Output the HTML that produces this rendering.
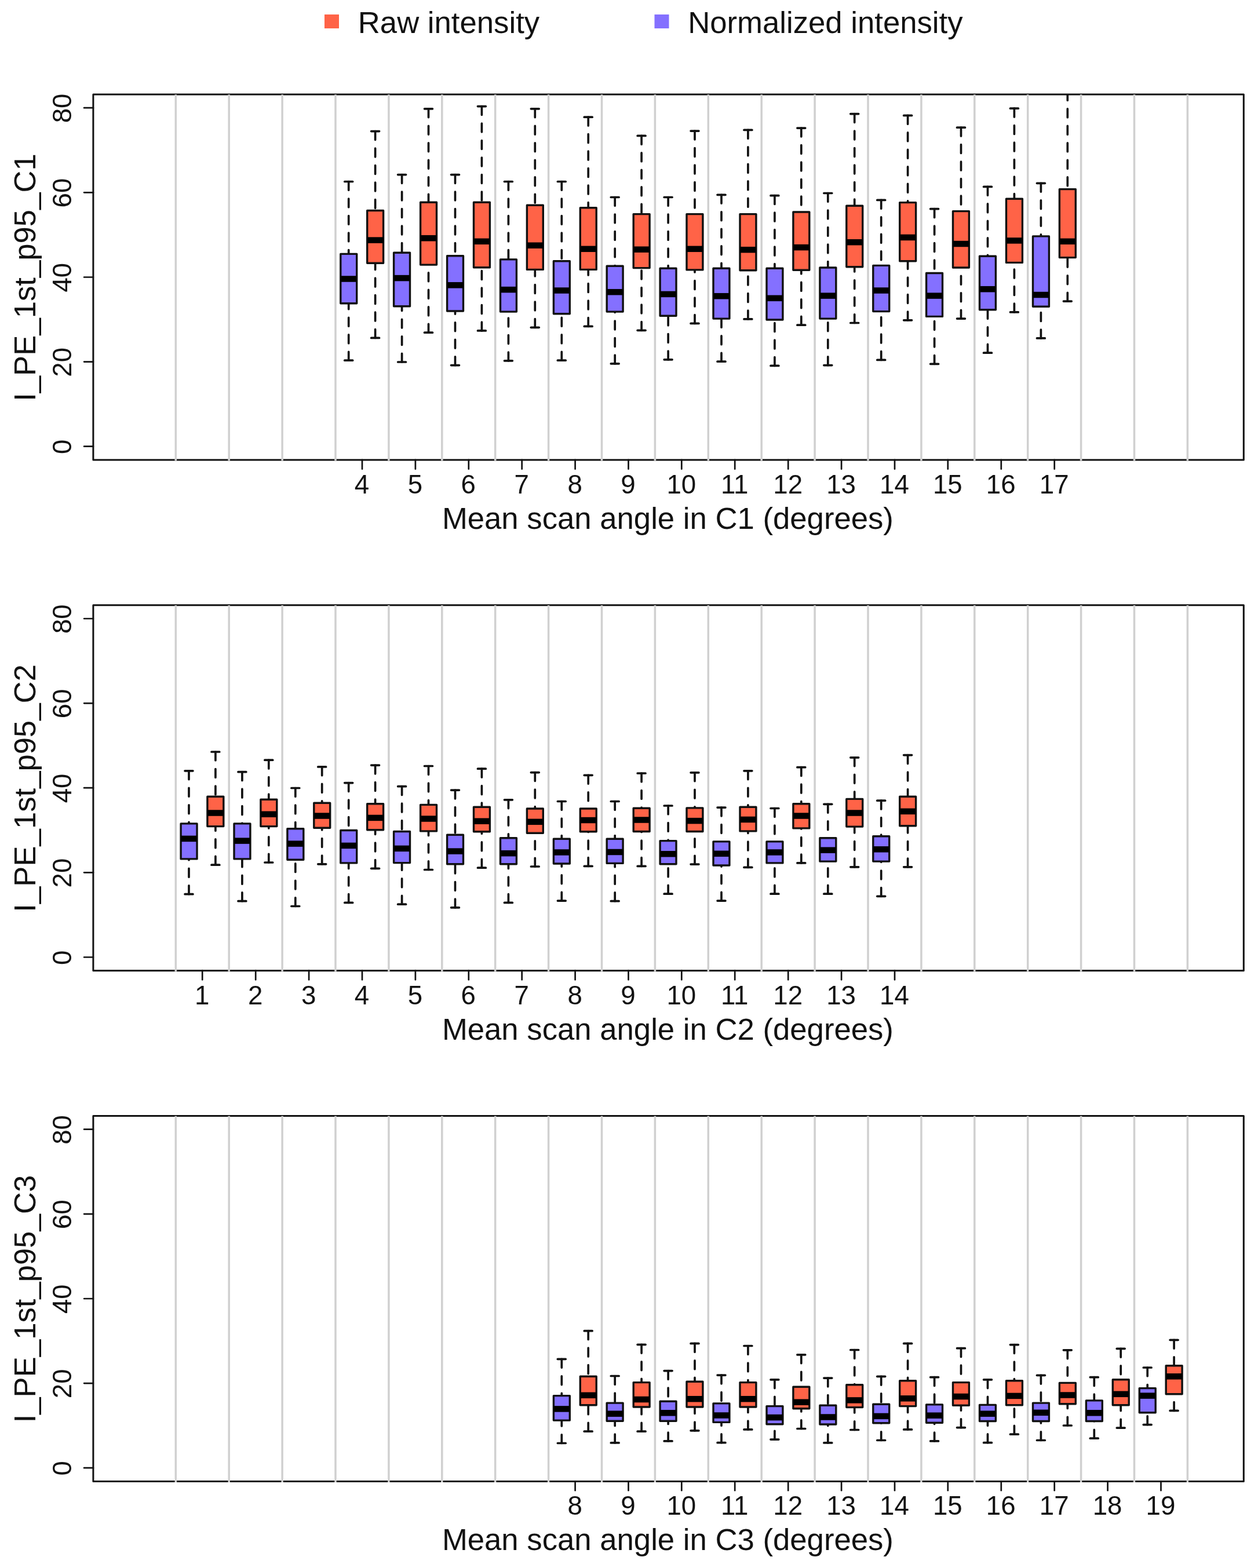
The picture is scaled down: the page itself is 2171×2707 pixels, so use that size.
<!DOCTYPE html>
<html lang="en"><head><meta charset="utf-8"><title>Raw vs normalized intensity by mean scan angle</title>
<style>
html,body{margin:0;padding:0;background:#fff;}
body{width:2171px;height:2707px;overflow:hidden;}
svg{display:block;}
text{font-family:"Liberation Sans",sans-serif;fill:#111111;}
.ax{font-size:45.7px;}
.lab{font-size:52.7px;}
.ln{stroke:#111111;stroke-width:3.0;fill:none;stroke-linecap:round;stroke-linejoin:round;}
.tk{stroke:#111111;stroke-width:2.7;fill:none;stroke-linecap:round;}
.g{stroke:#D0D0D0;stroke-width:3.5;fill:none;}
.w{stroke:#111111;stroke-width:3.7;fill:none;stroke-dasharray:14.75 14.75;stroke-linecap:round;}
.s{stroke:#111111;stroke-width:3.7;fill:none;stroke-linecap:round;}
.m{stroke:#000;stroke-width:10.5;fill:none;stroke-linecap:butt;}
.br{fill:#FF6347;stroke:#111111;stroke-width:3.4;stroke-linejoin:round;}
.bb{fill:#8470FF;stroke:#111111;stroke-width:3.4;stroke-linejoin:round;}
</style></head><body>
<svg width="2171" height="2707" viewBox="0 0 2171 2707">
<rect x="0" y="0" width="2171" height="2707" fill="#fff"/>
<g id="legend">
<rect x="560" y="25" width="25" height="24" fill="#FF6347"/>
<text class="lab" x="617.8" y="56.8">Raw intensity</text>
<rect x="1129.5" y="25" width="25" height="24" fill="#8470FF"/>
<text class="lab" x="1187.2" y="56.8">Normalized intensity</text>
</g>
<g id="panel1">
<clipPath id="clip0"><rect x="160.9" y="162.9" width="1985.4" height="631.0"/></clipPath>
<g clip-path="url(#clip0)">
<line class="s" x1="594.8" y1="313.5" x2="608.6" y2="313.5"/>
<line class="w" x1="601.7" y1="313.5" x2="601.7" y2="438.4"/>
<line class="w" x1="601.7" y1="622.2" x2="601.7" y2="523.7"/>
<line class="s" x1="594.8" y1="622.2" x2="608.6" y2="622.2"/>
<rect class="bb" x="587.8" y="438.4" width="27.9" height="85.3"/>
<line class="m" x1="587.8" y1="481.5" x2="615.7" y2="481.5"/>
<line class="s" x1="640.7" y1="226.6" x2="654.5" y2="226.6"/>
<line class="w" x1="647.6" y1="226.6" x2="647.6" y2="363.5"/>
<line class="w" x1="647.6" y1="583.4" x2="647.6" y2="454.3"/>
<line class="s" x1="640.7" y1="583.4" x2="654.5" y2="583.4"/>
<rect class="br" x="633.7" y="363.5" width="27.9" height="90.8"/>
<line class="m" x1="633.7" y1="414.6" x2="661.6" y2="414.6"/>
<line class="s" x1="686.7" y1="301.6" x2="700.5" y2="301.6"/>
<line class="w" x1="693.6" y1="301.6" x2="693.6" y2="436.2"/>
<line class="w" x1="693.6" y1="625.0" x2="693.6" y2="528.7"/>
<line class="s" x1="686.7" y1="625.0" x2="700.5" y2="625.0"/>
<rect class="bb" x="679.6" y="436.2" width="27.9" height="92.5"/>
<line class="m" x1="679.6" y1="480.1" x2="707.6" y2="480.1"/>
<line class="s" x1="732.6" y1="187.8" x2="746.4" y2="187.8"/>
<line class="w" x1="739.5" y1="187.8" x2="739.5" y2="349.3"/>
<line class="w" x1="739.5" y1="574.2" x2="739.5" y2="457.1"/>
<line class="s" x1="732.6" y1="574.2" x2="746.4" y2="574.2"/>
<rect class="br" x="725.6" y="349.3" width="27.9" height="107.8"/>
<line class="m" x1="725.6" y1="411.2" x2="753.5" y2="411.2"/>
<line class="s" x1="778.6" y1="301.6" x2="792.4" y2="301.6"/>
<line class="w" x1="785.5" y1="301.6" x2="785.5" y2="441.8"/>
<line class="w" x1="785.5" y1="630.6" x2="785.5" y2="537.0"/>
<line class="s" x1="778.6" y1="630.6" x2="792.4" y2="630.6"/>
<rect class="bb" x="771.6" y="441.8" width="27.9" height="95.2"/>
<line class="m" x1="771.6" y1="492.3" x2="799.5" y2="492.3"/>
<line class="s" x1="824.5" y1="183.6" x2="838.3" y2="183.6"/>
<line class="w" x1="831.4" y1="183.6" x2="831.4" y2="349.3"/>
<line class="w" x1="831.4" y1="570.9" x2="831.4" y2="461.8"/>
<line class="s" x1="824.5" y1="570.9" x2="838.3" y2="570.9"/>
<rect class="br" x="817.5" y="349.3" width="27.9" height="112.5"/>
<line class="m" x1="817.5" y1="416.8" x2="845.4" y2="416.8"/>
<line class="s" x1="870.5" y1="313.5" x2="884.3" y2="313.5"/>
<line class="w" x1="877.4" y1="313.5" x2="877.4" y2="447.9"/>
<line class="w" x1="877.4" y1="622.8" x2="877.4" y2="538.1"/>
<line class="s" x1="870.5" y1="622.8" x2="884.3" y2="622.8"/>
<rect class="bb" x="863.5" y="447.9" width="27.9" height="90.2"/>
<line class="m" x1="863.5" y1="500.1" x2="891.4" y2="500.1"/>
<line class="s" x1="916.4" y1="187.8" x2="930.2" y2="187.8"/>
<line class="w" x1="923.3" y1="187.8" x2="923.3" y2="354.3"/>
<line class="w" x1="923.3" y1="565.3" x2="923.3" y2="465.4"/>
<line class="s" x1="916.4" y1="565.3" x2="930.2" y2="565.3"/>
<rect class="br" x="909.4" y="354.3" width="27.9" height="111.1"/>
<line class="m" x1="909.4" y1="423.7" x2="937.3" y2="423.7"/>
<line class="s" x1="962.4" y1="313.5" x2="976.2" y2="313.5"/>
<line class="w" x1="969.3" y1="313.5" x2="969.3" y2="450.7"/>
<line class="w" x1="969.3" y1="622.2" x2="969.3" y2="541.7"/>
<line class="s" x1="962.4" y1="622.2" x2="976.2" y2="622.2"/>
<rect class="bb" x="955.4" y="450.7" width="27.9" height="91.0"/>
<line class="m" x1="955.4" y1="501.5" x2="983.3" y2="501.5"/>
<line class="s" x1="1008.3" y1="202.2" x2="1022.1" y2="202.2"/>
<line class="w" x1="1015.2" y1="202.2" x2="1015.2" y2="358.8"/>
<line class="w" x1="1015.2" y1="563.4" x2="1015.2" y2="465.4"/>
<line class="s" x1="1008.3" y1="563.4" x2="1022.1" y2="563.4"/>
<rect class="br" x="1001.3" y="358.8" width="27.9" height="106.6"/>
<line class="m" x1="1001.3" y1="429.8" x2="1029.2" y2="429.8"/>
<line class="s" x1="1054.3" y1="340.5" x2="1068.1" y2="340.5"/>
<line class="w" x1="1061.2" y1="340.5" x2="1061.2" y2="459.3"/>
<line class="w" x1="1061.2" y1="627.8" x2="1061.2" y2="538.1"/>
<line class="s" x1="1054.3" y1="627.8" x2="1068.1" y2="627.8"/>
<rect class="bb" x="1047.2" y="459.3" width="27.9" height="78.8"/>
<line class="m" x1="1047.2" y1="504.2" x2="1075.2" y2="504.2"/>
<line class="s" x1="1100.2" y1="234.4" x2="1114.0" y2="234.4"/>
<line class="w" x1="1107.1" y1="234.4" x2="1107.1" y2="369.6"/>
<line class="w" x1="1107.1" y1="570.3" x2="1107.1" y2="462.6"/>
<line class="s" x1="1100.2" y1="570.3" x2="1114.0" y2="570.3"/>
<rect class="br" x="1093.2" y="369.6" width="27.9" height="93.0"/>
<line class="m" x1="1093.2" y1="430.7" x2="1121.1" y2="430.7"/>
<line class="s" x1="1146.2" y1="340.5" x2="1160.0" y2="340.5"/>
<line class="w" x1="1153.1" y1="340.5" x2="1153.1" y2="463.2"/>
<line class="w" x1="1153.1" y1="620.8" x2="1153.1" y2="545.3"/>
<line class="s" x1="1146.2" y1="620.8" x2="1160.0" y2="620.8"/>
<rect class="bb" x="1139.1" y="463.2" width="27.9" height="82.1"/>
<line class="m" x1="1139.1" y1="507.9" x2="1167.0" y2="507.9"/>
<line class="s" x1="1192.1" y1="226.1" x2="1205.9" y2="226.1"/>
<line class="w" x1="1199.0" y1="226.1" x2="1199.0" y2="369.6"/>
<line class="w" x1="1199.0" y1="558.4" x2="1199.0" y2="465.9"/>
<line class="s" x1="1192.1" y1="558.4" x2="1205.9" y2="558.4"/>
<rect class="br" x="1185.0" y="369.6" width="27.9" height="96.3"/>
<line class="m" x1="1185.0" y1="429.8" x2="1213.0" y2="429.8"/>
<line class="s" x1="1238.1" y1="336.3" x2="1251.9" y2="336.3"/>
<line class="w" x1="1245.0" y1="336.3" x2="1245.0" y2="463.2"/>
<line class="w" x1="1245.0" y1="624.2" x2="1245.0" y2="550.1"/>
<line class="s" x1="1238.1" y1="624.2" x2="1251.9" y2="624.2"/>
<rect class="bb" x="1231.0" y="463.2" width="27.9" height="86.9"/>
<line class="m" x1="1231.0" y1="511.2" x2="1259.0" y2="511.2"/>
<line class="s" x1="1284.0" y1="224.4" x2="1297.8" y2="224.4"/>
<line class="w" x1="1290.9" y1="224.4" x2="1290.9" y2="369.6"/>
<line class="w" x1="1290.9" y1="550.9" x2="1290.9" y2="466.8"/>
<line class="s" x1="1284.0" y1="550.9" x2="1297.8" y2="550.9"/>
<rect class="br" x="1277.0" y="369.6" width="27.9" height="97.2"/>
<line class="m" x1="1277.0" y1="431.2" x2="1304.9" y2="431.2"/>
<line class="s" x1="1330.0" y1="337.7" x2="1343.8" y2="337.7"/>
<line class="w" x1="1336.9" y1="337.7" x2="1336.9" y2="463.2"/>
<line class="w" x1="1336.9" y1="631.4" x2="1336.9" y2="552.0"/>
<line class="s" x1="1330.0" y1="631.4" x2="1343.8" y2="631.4"/>
<rect class="bb" x="1323.0" y="463.2" width="27.9" height="88.8"/>
<line class="m" x1="1323.0" y1="514.8" x2="1350.9" y2="514.8"/>
<line class="s" x1="1375.9" y1="221.1" x2="1389.7" y2="221.1"/>
<line class="w" x1="1382.8" y1="221.1" x2="1382.8" y2="366.0"/>
<line class="w" x1="1382.8" y1="561.2" x2="1382.8" y2="466.2"/>
<line class="s" x1="1375.9" y1="561.2" x2="1389.7" y2="561.2"/>
<rect class="br" x="1368.9" y="366.0" width="27.9" height="100.2"/>
<line class="m" x1="1368.9" y1="427.1" x2="1396.8" y2="427.1"/>
<line class="s" x1="1421.9" y1="333.5" x2="1435.7" y2="333.5"/>
<line class="w" x1="1428.8" y1="333.5" x2="1428.8" y2="462.0"/>
<line class="w" x1="1428.8" y1="630.6" x2="1428.8" y2="550.1"/>
<line class="s" x1="1421.9" y1="630.6" x2="1435.7" y2="630.6"/>
<rect class="bb" x="1414.9" y="462.0" width="27.9" height="88.1"/>
<line class="m" x1="1414.9" y1="510.6" x2="1442.8" y2="510.6"/>
<line class="s" x1="1467.8" y1="196.6" x2="1481.6" y2="196.6"/>
<line class="w" x1="1474.7" y1="196.6" x2="1474.7" y2="355.2"/>
<line class="w" x1="1474.7" y1="557.5" x2="1474.7" y2="460.7"/>
<line class="s" x1="1467.8" y1="557.5" x2="1481.6" y2="557.5"/>
<rect class="br" x="1460.8" y="355.2" width="27.9" height="105.5"/>
<line class="m" x1="1460.8" y1="418.2" x2="1488.7" y2="418.2"/>
<line class="s" x1="1513.8" y1="345.4" x2="1527.6" y2="345.4"/>
<line class="w" x1="1520.7" y1="345.4" x2="1520.7" y2="458.4"/>
<line class="w" x1="1520.7" y1="621.4" x2="1520.7" y2="537.6"/>
<line class="s" x1="1513.8" y1="621.4" x2="1527.6" y2="621.4"/>
<rect class="bb" x="1506.8" y="458.4" width="27.9" height="79.2"/>
<line class="m" x1="1506.8" y1="501.5" x2="1534.7" y2="501.5"/>
<line class="s" x1="1559.7" y1="199.4" x2="1573.5" y2="199.4"/>
<line class="w" x1="1566.6" y1="199.4" x2="1566.6" y2="349.6"/>
<line class="w" x1="1566.6" y1="552.8" x2="1566.6" y2="450.7"/>
<line class="s" x1="1559.7" y1="552.8" x2="1573.5" y2="552.8"/>
<rect class="br" x="1552.7" y="349.6" width="27.9" height="101.1"/>
<line class="m" x1="1552.7" y1="409.9" x2="1580.6" y2="409.9"/>
<line class="s" x1="1605.7" y1="360.7" x2="1619.5" y2="360.7"/>
<line class="w" x1="1612.6" y1="360.7" x2="1612.6" y2="471.5"/>
<line class="w" x1="1612.6" y1="628.3" x2="1612.6" y2="546.4"/>
<line class="s" x1="1605.7" y1="628.3" x2="1619.5" y2="628.3"/>
<rect class="bb" x="1598.6" y="471.5" width="27.9" height="74.9"/>
<line class="m" x1="1598.6" y1="510.6" x2="1626.5" y2="510.6"/>
<line class="s" x1="1651.6" y1="220.2" x2="1665.4" y2="220.2"/>
<line class="w" x1="1658.5" y1="220.2" x2="1658.5" y2="364.6"/>
<line class="w" x1="1658.5" y1="550.1" x2="1658.5" y2="462.0"/>
<line class="s" x1="1651.6" y1="550.1" x2="1665.4" y2="550.1"/>
<rect class="br" x="1644.5" y="364.6" width="27.9" height="97.4"/>
<line class="m" x1="1644.5" y1="421.0" x2="1672.5" y2="421.0"/>
<line class="s" x1="1697.6" y1="322.4" x2="1711.4" y2="322.4"/>
<line class="w" x1="1704.5" y1="322.4" x2="1704.5" y2="442.3"/>
<line class="w" x1="1704.5" y1="609.2" x2="1704.5" y2="534.8"/>
<line class="s" x1="1697.6" y1="609.2" x2="1711.4" y2="609.2"/>
<rect class="bb" x="1690.5" y="442.3" width="27.9" height="92.5"/>
<line class="m" x1="1690.5" y1="499.2" x2="1718.5" y2="499.2"/>
<line class="s" x1="1743.5" y1="187.2" x2="1757.3" y2="187.2"/>
<line class="w" x1="1750.4" y1="187.2" x2="1750.4" y2="343.2"/>
<line class="w" x1="1750.4" y1="538.9" x2="1750.4" y2="453.4"/>
<line class="s" x1="1743.5" y1="538.9" x2="1757.3" y2="538.9"/>
<rect class="br" x="1736.5" y="343.2" width="27.9" height="110.2"/>
<line class="m" x1="1736.5" y1="415.4" x2="1764.4" y2="415.4"/>
<line class="s" x1="1789.5" y1="316.3" x2="1803.3" y2="316.3"/>
<line class="w" x1="1796.4" y1="316.3" x2="1796.4" y2="407.9"/>
<line class="w" x1="1796.4" y1="583.9" x2="1796.4" y2="529.2"/>
<line class="s" x1="1789.5" y1="583.9" x2="1803.3" y2="583.9"/>
<rect class="bb" x="1782.5" y="407.9" width="27.9" height="121.3"/>
<line class="m" x1="1782.5" y1="509.0" x2="1810.4" y2="509.0"/>
<line class="w" x1="1842.3" y1="128.9" x2="1842.3" y2="326.6"/>
<line class="w" x1="1842.3" y1="520.1" x2="1842.3" y2="444.6"/>
<line class="s" x1="1835.4" y1="520.1" x2="1849.2" y2="520.1"/>
<rect class="br" x="1828.4" y="326.6" width="27.9" height="118.0"/>
<line class="m" x1="1828.4" y1="416.8" x2="1856.3" y2="416.8"/>
</g>
<rect class="ln" x="160.9" y="162.9" width="1985.4" height="631.0"/>
<line class="g" x1="303.3" y1="163.2" x2="303.3" y2="795.4"/>
<line class="g" x1="395.2" y1="163.2" x2="395.2" y2="795.4"/>
<line class="g" x1="487.1" y1="163.2" x2="487.1" y2="795.4"/>
<line class="g" x1="579.0" y1="163.2" x2="579.0" y2="795.4"/>
<line class="g" x1="670.9" y1="163.2" x2="670.9" y2="795.4"/>
<line class="g" x1="762.8" y1="163.2" x2="762.8" y2="795.4"/>
<line class="g" x1="854.7" y1="163.2" x2="854.7" y2="795.4"/>
<line class="g" x1="946.6" y1="163.2" x2="946.6" y2="795.4"/>
<line class="g" x1="1038.5" y1="163.2" x2="1038.5" y2="795.4"/>
<line class="g" x1="1130.4" y1="163.2" x2="1130.4" y2="795.4"/>
<line class="g" x1="1222.3" y1="163.2" x2="1222.3" y2="795.4"/>
<line class="g" x1="1314.2" y1="163.2" x2="1314.2" y2="795.4"/>
<line class="g" x1="1406.1" y1="163.2" x2="1406.1" y2="795.4"/>
<line class="g" x1="1498.0" y1="163.2" x2="1498.0" y2="795.4"/>
<line class="g" x1="1589.9" y1="163.2" x2="1589.9" y2="795.4"/>
<line class="g" x1="1681.8" y1="163.2" x2="1681.8" y2="795.4"/>
<line class="g" x1="1773.7" y1="163.2" x2="1773.7" y2="795.4"/>
<line class="g" x1="1865.6" y1="163.2" x2="1865.6" y2="795.4"/>
<line class="g" x1="1957.5" y1="163.2" x2="1957.5" y2="795.4"/>
<line class="g" x1="2049.4" y1="163.2" x2="2049.4" y2="795.4"/>
<line class="tk" x1="160.9" y1="770.7" x2="145.1" y2="770.7"/>
<text class="ax" text-anchor="middle" transform="translate(123.3 771.4) rotate(-90)">0</text>
<line class="tk" x1="160.9" y1="624.6" x2="145.1" y2="624.6"/>
<text class="ax" text-anchor="middle" transform="translate(123.3 625.3) rotate(-90)">20</text>
<line class="tk" x1="160.9" y1="478.5" x2="145.1" y2="478.5"/>
<text class="ax" text-anchor="middle" transform="translate(123.3 479.2) rotate(-90)">40</text>
<line class="tk" x1="160.9" y1="332.3" x2="145.1" y2="332.3"/>
<text class="ax" text-anchor="middle" transform="translate(123.3 333.0) rotate(-90)">60</text>
<line class="tk" x1="160.9" y1="186.2" x2="145.1" y2="186.2"/>
<text class="ax" text-anchor="middle" transform="translate(123.3 186.9) rotate(-90)">80</text>
<line class="tk" x1="625.0" y1="793.9" x2="625.0" y2="809.7"/>
<text class="ax" text-anchor="middle" x="624.5" y="851.7">4</text>
<line class="tk" x1="716.9" y1="793.9" x2="716.9" y2="809.7"/>
<text class="ax" text-anchor="middle" x="716.4" y="851.7">5</text>
<line class="tk" x1="808.8" y1="793.9" x2="808.8" y2="809.7"/>
<text class="ax" text-anchor="middle" x="808.3" y="851.7">6</text>
<line class="tk" x1="900.7" y1="793.9" x2="900.7" y2="809.7"/>
<text class="ax" text-anchor="middle" x="900.2" y="851.7">7</text>
<line class="tk" x1="992.6" y1="793.9" x2="992.6" y2="809.7"/>
<text class="ax" text-anchor="middle" x="992.1" y="851.7">8</text>
<line class="tk" x1="1084.5" y1="793.9" x2="1084.5" y2="809.7"/>
<text class="ax" text-anchor="middle" x="1084.0" y="851.7">9</text>
<line class="tk" x1="1176.3" y1="793.9" x2="1176.3" y2="809.7"/>
<text class="ax" text-anchor="middle" x="1175.8" y="851.7">10</text>
<line class="tk" x1="1268.2" y1="793.9" x2="1268.2" y2="809.7"/>
<text class="ax" text-anchor="middle" x="1267.8" y="851.7">11</text>
<line class="tk" x1="1360.2" y1="793.9" x2="1360.2" y2="809.7"/>
<text class="ax" text-anchor="middle" x="1359.7" y="851.7">12</text>
<line class="tk" x1="1452.1" y1="793.9" x2="1452.1" y2="809.7"/>
<text class="ax" text-anchor="middle" x="1451.6" y="851.7">13</text>
<line class="tk" x1="1544.0" y1="793.9" x2="1544.0" y2="809.7"/>
<text class="ax" text-anchor="middle" x="1543.5" y="851.7">14</text>
<line class="tk" x1="1635.8" y1="793.9" x2="1635.8" y2="809.7"/>
<text class="ax" text-anchor="middle" x="1635.3" y="851.7">15</text>
<line class="tk" x1="1727.8" y1="793.9" x2="1727.8" y2="809.7"/>
<text class="ax" text-anchor="middle" x="1727.2" y="851.7">16</text>
<line class="tk" x1="1819.7" y1="793.9" x2="1819.7" y2="809.7"/>
<text class="ax" text-anchor="middle" x="1819.2" y="851.7">17</text>
<text class="lab" text-anchor="middle" x="1152.4" y="912.9">Mean scan angle in C1 (degrees)</text>
<text class="lab" text-anchor="middle" transform="translate(61.0 479.0) rotate(-90)">I_PE_1st_p95_C1</text>
</g>
<g id="panel2">
<clipPath id="clip1"><rect x="160.9" y="1044.65" width="1985.4" height="631.0"/></clipPath>
<g clip-path="url(#clip1)">
<line class="s" x1="319.1" y1="1330.8" x2="332.9" y2="1330.8"/>
<line class="w" x1="326.0" y1="1330.8" x2="326.0" y2="1421.9"/>
<line class="w" x1="326.0" y1="1543.7" x2="326.0" y2="1482.9"/>
<line class="s" x1="319.1" y1="1543.7" x2="332.9" y2="1543.7"/>
<rect class="bb" x="312.1" y="1421.9" width="27.9" height="61.0"/>
<line class="m" x1="312.1" y1="1447.9" x2="339.9" y2="1447.9"/>
<line class="s" x1="365.0" y1="1298.0" x2="378.8" y2="1298.0"/>
<line class="w" x1="371.9" y1="1298.0" x2="371.9" y2="1375.2"/>
<line class="w" x1="371.9" y1="1493.2" x2="371.9" y2="1426.6"/>
<line class="s" x1="365.0" y1="1493.2" x2="378.8" y2="1493.2"/>
<rect class="br" x="357.9" y="1375.2" width="27.9" height="51.4"/>
<line class="m" x1="357.9" y1="1403.5" x2="385.8" y2="1403.5"/>
<line class="s" x1="411.0" y1="1332.7" x2="424.8" y2="1332.7"/>
<line class="w" x1="417.9" y1="1332.7" x2="417.9" y2="1421.9"/>
<line class="w" x1="417.9" y1="1555.7" x2="417.9" y2="1482.9"/>
<line class="s" x1="411.0" y1="1555.7" x2="424.8" y2="1555.7"/>
<rect class="bb" x="404.0" y="1421.9" width="27.9" height="61.0"/>
<line class="m" x1="404.0" y1="1451.6" x2="431.9" y2="1451.6"/>
<line class="s" x1="456.9" y1="1312.2" x2="470.7" y2="1312.2"/>
<line class="w" x1="463.8" y1="1312.2" x2="463.8" y2="1380.2"/>
<line class="w" x1="463.8" y1="1489.0" x2="463.8" y2="1426.6"/>
<line class="s" x1="456.9" y1="1489.0" x2="470.7" y2="1489.0"/>
<rect class="br" x="449.9" y="1380.2" width="27.9" height="46.4"/>
<line class="m" x1="449.9" y1="1405.7" x2="477.8" y2="1405.7"/>
<line class="s" x1="502.9" y1="1360.5" x2="516.7" y2="1360.5"/>
<line class="w" x1="509.8" y1="1360.5" x2="509.8" y2="1430.7"/>
<line class="w" x1="509.8" y1="1564.5" x2="509.8" y2="1484.3"/>
<line class="s" x1="502.9" y1="1564.5" x2="516.7" y2="1564.5"/>
<rect class="bb" x="495.9" y="1430.7" width="27.9" height="53.6"/>
<line class="m" x1="495.9" y1="1456.6" x2="523.8" y2="1456.6"/>
<line class="s" x1="548.8" y1="1323.9" x2="562.6" y2="1323.9"/>
<line class="w" x1="555.7" y1="1323.9" x2="555.7" y2="1386.3"/>
<line class="w" x1="555.7" y1="1491.8" x2="555.7" y2="1429.3"/>
<line class="s" x1="548.8" y1="1491.8" x2="562.6" y2="1491.8"/>
<rect class="br" x="541.8" y="1386.3" width="27.9" height="43.0"/>
<line class="m" x1="541.8" y1="1408.5" x2="569.7" y2="1408.5"/>
<line class="s" x1="594.8" y1="1351.6" x2="608.6" y2="1351.6"/>
<line class="w" x1="601.7" y1="1351.6" x2="601.7" y2="1433.5"/>
<line class="w" x1="601.7" y1="1558.4" x2="601.7" y2="1489.9"/>
<line class="s" x1="594.8" y1="1558.4" x2="608.6" y2="1558.4"/>
<rect class="bb" x="587.8" y="1433.5" width="27.9" height="56.4"/>
<line class="m" x1="587.8" y1="1459.9" x2="615.7" y2="1459.9"/>
<line class="s" x1="640.7" y1="1321.1" x2="654.5" y2="1321.1"/>
<line class="w" x1="647.6" y1="1321.1" x2="647.6" y2="1387.7"/>
<line class="w" x1="647.6" y1="1499.3" x2="647.6" y2="1432.7"/>
<line class="s" x1="640.7" y1="1499.3" x2="654.5" y2="1499.3"/>
<rect class="br" x="633.7" y="1387.7" width="27.9" height="45.0"/>
<line class="m" x1="633.7" y1="1411.9" x2="661.6" y2="1411.9"/>
<line class="s" x1="686.7" y1="1357.7" x2="700.5" y2="1357.7"/>
<line class="w" x1="693.6" y1="1357.7" x2="693.6" y2="1435.5"/>
<line class="w" x1="693.6" y1="1561.2" x2="693.6" y2="1489.6"/>
<line class="s" x1="686.7" y1="1561.2" x2="700.5" y2="1561.2"/>
<rect class="bb" x="679.6" y="1435.5" width="27.9" height="54.1"/>
<line class="m" x1="679.6" y1="1464.9" x2="707.6" y2="1464.9"/>
<line class="s" x1="732.6" y1="1322.5" x2="746.4" y2="1322.5"/>
<line class="w" x1="739.5" y1="1322.5" x2="739.5" y2="1389.4"/>
<line class="w" x1="739.5" y1="1501.5" x2="739.5" y2="1434.9"/>
<line class="s" x1="732.6" y1="1501.5" x2="746.4" y2="1501.5"/>
<rect class="br" x="725.6" y="1389.4" width="27.9" height="45.5"/>
<line class="m" x1="725.6" y1="1413.5" x2="753.5" y2="1413.5"/>
<line class="s" x1="778.6" y1="1364.1" x2="792.4" y2="1364.1"/>
<line class="w" x1="785.5" y1="1364.1" x2="785.5" y2="1441.3"/>
<line class="w" x1="785.5" y1="1566.8" x2="785.5" y2="1491.8"/>
<line class="s" x1="778.6" y1="1566.8" x2="792.4" y2="1566.8"/>
<rect class="bb" x="771.6" y="1441.3" width="27.9" height="50.5"/>
<line class="m" x1="771.6" y1="1469.6" x2="799.5" y2="1469.6"/>
<line class="s" x1="824.5" y1="1327.2" x2="838.3" y2="1327.2"/>
<line class="w" x1="831.4" y1="1327.2" x2="831.4" y2="1393.3"/>
<line class="w" x1="831.4" y1="1498.2" x2="831.4" y2="1435.7"/>
<line class="s" x1="824.5" y1="1498.2" x2="838.3" y2="1498.2"/>
<rect class="br" x="817.5" y="1393.3" width="27.9" height="42.4"/>
<line class="m" x1="817.5" y1="1417.7" x2="845.4" y2="1417.7"/>
<line class="s" x1="870.5" y1="1380.8" x2="884.3" y2="1380.8"/>
<line class="w" x1="877.4" y1="1380.8" x2="877.4" y2="1446.8"/>
<line class="w" x1="877.4" y1="1558.4" x2="877.4" y2="1491.8"/>
<line class="s" x1="870.5" y1="1558.4" x2="884.3" y2="1558.4"/>
<rect class="bb" x="863.5" y="1446.8" width="27.9" height="45.0"/>
<line class="m" x1="863.5" y1="1473.2" x2="891.4" y2="1473.2"/>
<line class="s" x1="916.4" y1="1333.6" x2="930.2" y2="1333.6"/>
<line class="w" x1="923.3" y1="1333.6" x2="923.3" y2="1396.0"/>
<line class="w" x1="923.3" y1="1496.0" x2="923.3" y2="1438.2"/>
<line class="s" x1="916.4" y1="1496.0" x2="930.2" y2="1496.0"/>
<rect class="br" x="909.4" y="1396.0" width="27.9" height="42.2"/>
<line class="m" x1="909.4" y1="1418.8" x2="937.3" y2="1418.8"/>
<line class="s" x1="962.4" y1="1383.5" x2="976.2" y2="1383.5"/>
<line class="w" x1="969.3" y1="1383.5" x2="969.3" y2="1448.2"/>
<line class="w" x1="969.3" y1="1555.1" x2="969.3" y2="1491.0"/>
<line class="s" x1="962.4" y1="1555.1" x2="976.2" y2="1555.1"/>
<rect class="bb" x="955.4" y="1448.2" width="27.9" height="42.8"/>
<line class="m" x1="955.4" y1="1471.5" x2="983.3" y2="1471.5"/>
<line class="s" x1="1008.3" y1="1338.3" x2="1022.1" y2="1338.3"/>
<line class="w" x1="1015.2" y1="1338.3" x2="1015.2" y2="1396.0"/>
<line class="w" x1="1015.2" y1="1495.4" x2="1015.2" y2="1435.7"/>
<line class="s" x1="1008.3" y1="1495.4" x2="1022.1" y2="1495.4"/>
<rect class="br" x="1001.3" y="1396.0" width="27.9" height="39.7"/>
<line class="m" x1="1001.3" y1="1416.0" x2="1029.2" y2="1416.0"/>
<line class="s" x1="1054.3" y1="1383.5" x2="1068.1" y2="1383.5"/>
<line class="w" x1="1061.2" y1="1383.5" x2="1061.2" y2="1448.2"/>
<line class="w" x1="1061.2" y1="1555.7" x2="1061.2" y2="1490.4"/>
<line class="s" x1="1054.3" y1="1555.7" x2="1068.1" y2="1555.7"/>
<rect class="bb" x="1047.2" y="1448.2" width="27.9" height="42.2"/>
<line class="m" x1="1047.2" y1="1471.0" x2="1075.2" y2="1471.0"/>
<line class="s" x1="1100.2" y1="1335.0" x2="1114.0" y2="1335.0"/>
<line class="w" x1="1107.1" y1="1335.0" x2="1107.1" y2="1395.2"/>
<line class="w" x1="1107.1" y1="1495.4" x2="1107.1" y2="1435.5"/>
<line class="s" x1="1100.2" y1="1495.4" x2="1114.0" y2="1495.4"/>
<rect class="br" x="1093.2" y="1395.2" width="27.9" height="40.3"/>
<line class="m" x1="1093.2" y1="1415.5" x2="1121.1" y2="1415.5"/>
<line class="s" x1="1146.2" y1="1391.0" x2="1160.0" y2="1391.0"/>
<line class="w" x1="1153.1" y1="1391.0" x2="1153.1" y2="1451.6"/>
<line class="w" x1="1153.1" y1="1543.2" x2="1153.1" y2="1491.8"/>
<line class="s" x1="1146.2" y1="1543.2" x2="1160.0" y2="1543.2"/>
<rect class="bb" x="1139.1" y="1451.6" width="27.9" height="40.2"/>
<line class="m" x1="1139.1" y1="1474.3" x2="1167.0" y2="1474.3"/>
<line class="s" x1="1192.1" y1="1333.8" x2="1205.9" y2="1333.8"/>
<line class="w" x1="1199.0" y1="1333.8" x2="1199.0" y2="1394.9"/>
<line class="w" x1="1199.0" y1="1492.1" x2="1199.0" y2="1435.5"/>
<line class="s" x1="1192.1" y1="1492.1" x2="1205.9" y2="1492.1"/>
<rect class="br" x="1185.0" y="1394.9" width="27.9" height="40.6"/>
<line class="m" x1="1185.0" y1="1417.1" x2="1213.0" y2="1417.1"/>
<line class="s" x1="1238.1" y1="1394.1" x2="1251.9" y2="1394.1"/>
<line class="w" x1="1245.0" y1="1394.1" x2="1245.0" y2="1452.9"/>
<line class="w" x1="1245.0" y1="1555.1" x2="1245.0" y2="1494.0"/>
<line class="s" x1="1238.1" y1="1555.1" x2="1251.9" y2="1555.1"/>
<rect class="bb" x="1231.0" y="1452.9" width="27.9" height="41.1"/>
<line class="m" x1="1231.0" y1="1473.8" x2="1259.0" y2="1473.8"/>
<line class="s" x1="1284.0" y1="1330.8" x2="1297.8" y2="1330.8"/>
<line class="w" x1="1290.9" y1="1330.8" x2="1290.9" y2="1393.3"/>
<line class="w" x1="1290.9" y1="1497.4" x2="1290.9" y2="1434.9"/>
<line class="s" x1="1284.0" y1="1497.4" x2="1297.8" y2="1497.4"/>
<rect class="br" x="1277.0" y="1393.3" width="27.9" height="41.6"/>
<line class="m" x1="1277.0" y1="1414.9" x2="1304.9" y2="1414.9"/>
<line class="s" x1="1330.0" y1="1395.5" x2="1343.8" y2="1395.5"/>
<line class="w" x1="1336.9" y1="1395.5" x2="1336.9" y2="1452.9"/>
<line class="w" x1="1336.9" y1="1543.2" x2="1336.9" y2="1489.9"/>
<line class="s" x1="1330.0" y1="1543.2" x2="1343.8" y2="1543.2"/>
<rect class="bb" x="1323.0" y="1452.9" width="27.9" height="37.0"/>
<line class="m" x1="1323.0" y1="1471.5" x2="1350.9" y2="1471.5"/>
<line class="s" x1="1375.9" y1="1324.7" x2="1389.7" y2="1324.7"/>
<line class="w" x1="1382.8" y1="1324.7" x2="1382.8" y2="1387.7"/>
<line class="w" x1="1382.8" y1="1489.9" x2="1382.8" y2="1429.9"/>
<line class="s" x1="1375.9" y1="1489.9" x2="1389.7" y2="1489.9"/>
<rect class="br" x="1368.9" y="1387.7" width="27.9" height="42.2"/>
<line class="m" x1="1368.9" y1="1408.5" x2="1396.8" y2="1408.5"/>
<line class="s" x1="1421.9" y1="1388.3" x2="1435.7" y2="1388.3"/>
<line class="w" x1="1428.8" y1="1388.3" x2="1428.8" y2="1446.8"/>
<line class="w" x1="1428.8" y1="1543.2" x2="1428.8" y2="1487.1"/>
<line class="s" x1="1421.9" y1="1543.2" x2="1435.7" y2="1543.2"/>
<rect class="bb" x="1414.9" y="1446.8" width="27.9" height="40.3"/>
<line class="m" x1="1414.9" y1="1467.7" x2="1442.8" y2="1467.7"/>
<line class="s" x1="1467.8" y1="1307.8" x2="1481.6" y2="1307.8"/>
<line class="w" x1="1474.7" y1="1307.8" x2="1474.7" y2="1379.4"/>
<line class="w" x1="1474.7" y1="1496.8" x2="1474.7" y2="1427.1"/>
<line class="s" x1="1467.8" y1="1496.8" x2="1481.6" y2="1496.8"/>
<rect class="br" x="1460.8" y="1379.4" width="27.9" height="47.7"/>
<line class="m" x1="1460.8" y1="1403.5" x2="1488.7" y2="1403.5"/>
<line class="s" x1="1513.8" y1="1382.2" x2="1527.6" y2="1382.2"/>
<line class="w" x1="1520.7" y1="1382.2" x2="1520.7" y2="1443.8"/>
<line class="w" x1="1520.7" y1="1547.3" x2="1520.7" y2="1487.1"/>
<line class="s" x1="1513.8" y1="1547.3" x2="1527.6" y2="1547.3"/>
<rect class="bb" x="1506.8" y="1443.8" width="27.9" height="43.3"/>
<line class="m" x1="1506.8" y1="1466.3" x2="1534.7" y2="1466.3"/>
<line class="s" x1="1559.7" y1="1303.6" x2="1573.5" y2="1303.6"/>
<line class="w" x1="1566.6" y1="1303.6" x2="1566.6" y2="1375.2"/>
<line class="w" x1="1566.6" y1="1496.8" x2="1566.6" y2="1425.7"/>
<line class="s" x1="1559.7" y1="1496.8" x2="1573.5" y2="1496.8"/>
<rect class="br" x="1552.7" y="1375.2" width="27.9" height="50.5"/>
<line class="m" x1="1552.7" y1="1400.8" x2="1580.6" y2="1400.8"/>
</g>
<rect class="ln" x="160.9" y="1044.7" width="1985.4" height="631.0"/>
<line class="g" x1="303.3" y1="1045.0" x2="303.3" y2="1677.2"/>
<line class="g" x1="395.2" y1="1045.0" x2="395.2" y2="1677.2"/>
<line class="g" x1="487.1" y1="1045.0" x2="487.1" y2="1677.2"/>
<line class="g" x1="579.0" y1="1045.0" x2="579.0" y2="1677.2"/>
<line class="g" x1="670.9" y1="1045.0" x2="670.9" y2="1677.2"/>
<line class="g" x1="762.8" y1="1045.0" x2="762.8" y2="1677.2"/>
<line class="g" x1="854.7" y1="1045.0" x2="854.7" y2="1677.2"/>
<line class="g" x1="946.6" y1="1045.0" x2="946.6" y2="1677.2"/>
<line class="g" x1="1038.5" y1="1045.0" x2="1038.5" y2="1677.2"/>
<line class="g" x1="1130.4" y1="1045.0" x2="1130.4" y2="1677.2"/>
<line class="g" x1="1222.3" y1="1045.0" x2="1222.3" y2="1677.2"/>
<line class="g" x1="1314.2" y1="1045.0" x2="1314.2" y2="1677.2"/>
<line class="g" x1="1406.1" y1="1045.0" x2="1406.1" y2="1677.2"/>
<line class="g" x1="1498.0" y1="1045.0" x2="1498.0" y2="1677.2"/>
<line class="g" x1="1589.9" y1="1045.0" x2="1589.9" y2="1677.2"/>
<line class="g" x1="1681.8" y1="1045.0" x2="1681.8" y2="1677.2"/>
<line class="g" x1="1773.7" y1="1045.0" x2="1773.7" y2="1677.2"/>
<line class="g" x1="1865.6" y1="1045.0" x2="1865.6" y2="1677.2"/>
<line class="g" x1="1957.5" y1="1045.0" x2="1957.5" y2="1677.2"/>
<line class="g" x1="2049.4" y1="1045.0" x2="2049.4" y2="1677.2"/>
<line class="tk" x1="160.9" y1="1652.5" x2="145.1" y2="1652.5"/>
<text class="ax" text-anchor="middle" transform="translate(123.3 1653.2) rotate(-90)">0</text>
<line class="tk" x1="160.9" y1="1506.3" x2="145.1" y2="1506.3"/>
<text class="ax" text-anchor="middle" transform="translate(123.3 1507.0) rotate(-90)">20</text>
<line class="tk" x1="160.9" y1="1360.2" x2="145.1" y2="1360.2"/>
<text class="ax" text-anchor="middle" transform="translate(123.3 1360.9) rotate(-90)">40</text>
<line class="tk" x1="160.9" y1="1214.1" x2="145.1" y2="1214.1"/>
<text class="ax" text-anchor="middle" transform="translate(123.3 1214.8) rotate(-90)">60</text>
<line class="tk" x1="160.9" y1="1068.0" x2="145.1" y2="1068.0"/>
<text class="ax" text-anchor="middle" transform="translate(123.3 1068.7) rotate(-90)">80</text>
<line class="tk" x1="349.2" y1="1675.7" x2="349.2" y2="1691.5"/>
<text class="ax" text-anchor="middle" x="348.8" y="1733.5">1</text>
<line class="tk" x1="441.2" y1="1675.7" x2="441.2" y2="1691.5"/>
<text class="ax" text-anchor="middle" x="440.7" y="1733.5">2</text>
<line class="tk" x1="533.1" y1="1675.7" x2="533.1" y2="1691.5"/>
<text class="ax" text-anchor="middle" x="532.6" y="1733.5">3</text>
<line class="tk" x1="625.0" y1="1675.7" x2="625.0" y2="1691.5"/>
<text class="ax" text-anchor="middle" x="624.5" y="1733.5">4</text>
<line class="tk" x1="716.9" y1="1675.7" x2="716.9" y2="1691.5"/>
<text class="ax" text-anchor="middle" x="716.4" y="1733.5">5</text>
<line class="tk" x1="808.8" y1="1675.7" x2="808.8" y2="1691.5"/>
<text class="ax" text-anchor="middle" x="808.3" y="1733.5">6</text>
<line class="tk" x1="900.7" y1="1675.7" x2="900.7" y2="1691.5"/>
<text class="ax" text-anchor="middle" x="900.2" y="1733.5">7</text>
<line class="tk" x1="992.6" y1="1675.7" x2="992.6" y2="1691.5"/>
<text class="ax" text-anchor="middle" x="992.1" y="1733.5">8</text>
<line class="tk" x1="1084.5" y1="1675.7" x2="1084.5" y2="1691.5"/>
<text class="ax" text-anchor="middle" x="1084.0" y="1733.5">9</text>
<line class="tk" x1="1176.3" y1="1675.7" x2="1176.3" y2="1691.5"/>
<text class="ax" text-anchor="middle" x="1175.8" y="1733.5">10</text>
<line class="tk" x1="1268.2" y1="1675.7" x2="1268.2" y2="1691.5"/>
<text class="ax" text-anchor="middle" x="1267.8" y="1733.5">11</text>
<line class="tk" x1="1360.2" y1="1675.7" x2="1360.2" y2="1691.5"/>
<text class="ax" text-anchor="middle" x="1359.7" y="1733.5">12</text>
<line class="tk" x1="1452.1" y1="1675.7" x2="1452.1" y2="1691.5"/>
<text class="ax" text-anchor="middle" x="1451.6" y="1733.5">13</text>
<line class="tk" x1="1544.0" y1="1675.7" x2="1544.0" y2="1691.5"/>
<text class="ax" text-anchor="middle" x="1543.5" y="1733.5">14</text>
<text class="lab" text-anchor="middle" x="1152.4" y="1794.7">Mean scan angle in C2 (degrees)</text>
<text class="lab" text-anchor="middle" transform="translate(61.0 1360.8) rotate(-90)">I_PE_1st_p95_C2</text>
</g>
<g id="panel3">
<clipPath id="clip2"><rect x="160.9" y="1926.4" width="1985.4" height="631.0"/></clipPath>
<g clip-path="url(#clip2)">
<line class="s" x1="962.4" y1="2346.3" x2="976.2" y2="2346.3"/>
<line class="w" x1="969.3" y1="2346.3" x2="969.3" y2="2409.6"/>
<line class="w" x1="969.3" y1="2491.5" x2="969.3" y2="2452.1"/>
<line class="s" x1="962.4" y1="2491.5" x2="976.2" y2="2491.5"/>
<rect class="bb" x="955.4" y="2409.6" width="27.9" height="42.5"/>
<line class="m" x1="955.4" y1="2432.4" x2="983.3" y2="2432.4"/>
<line class="s" x1="1008.3" y1="2297.7" x2="1022.1" y2="2297.7"/>
<line class="w" x1="1015.2" y1="2297.7" x2="1015.2" y2="2376.3"/>
<line class="w" x1="1015.2" y1="2471.2" x2="1015.2" y2="2425.7"/>
<line class="s" x1="1008.3" y1="2471.2" x2="1022.1" y2="2471.2"/>
<rect class="br" x="1001.3" y="2376.3" width="27.9" height="49.4"/>
<line class="m" x1="1001.3" y1="2408.8" x2="1029.2" y2="2408.8"/>
<line class="s" x1="1054.3" y1="2375.5" x2="1068.1" y2="2375.5"/>
<line class="w" x1="1061.2" y1="2375.5" x2="1061.2" y2="2422.1"/>
<line class="w" x1="1061.2" y1="2490.9" x2="1061.2" y2="2453.2"/>
<line class="s" x1="1054.3" y1="2490.9" x2="1068.1" y2="2490.9"/>
<rect class="bb" x="1047.2" y="2422.1" width="27.9" height="31.1"/>
<line class="m" x1="1047.2" y1="2440.7" x2="1075.2" y2="2440.7"/>
<line class="s" x1="1100.2" y1="2321.3" x2="1114.0" y2="2321.3"/>
<line class="w" x1="1107.1" y1="2321.3" x2="1107.1" y2="2386.6"/>
<line class="w" x1="1107.1" y1="2471.2" x2="1107.1" y2="2429.0"/>
<line class="s" x1="1100.2" y1="2471.2" x2="1114.0" y2="2471.2"/>
<rect class="br" x="1093.2" y="2386.6" width="27.9" height="42.4"/>
<line class="m" x1="1093.2" y1="2416.0" x2="1121.1" y2="2416.0"/>
<line class="s" x1="1146.2" y1="2366.6" x2="1160.0" y2="2366.6"/>
<line class="w" x1="1153.1" y1="2366.6" x2="1153.1" y2="2419.3"/>
<line class="w" x1="1153.1" y1="2487.9" x2="1153.1" y2="2453.2"/>
<line class="s" x1="1146.2" y1="2487.9" x2="1160.0" y2="2487.9"/>
<rect class="bb" x="1139.1" y="2419.3" width="27.9" height="33.9"/>
<line class="m" x1="1139.1" y1="2439.3" x2="1167.0" y2="2439.3"/>
<line class="s" x1="1192.1" y1="2319.4" x2="1205.9" y2="2319.4"/>
<line class="w" x1="1199.0" y1="2319.4" x2="1199.0" y2="2385.2"/>
<line class="w" x1="1199.0" y1="2469.8" x2="1199.0" y2="2429.0"/>
<line class="s" x1="1192.1" y1="2469.8" x2="1205.9" y2="2469.8"/>
<rect class="br" x="1185.0" y="2385.2" width="27.9" height="43.8"/>
<line class="m" x1="1185.0" y1="2415.2" x2="1213.0" y2="2415.2"/>
<line class="s" x1="1238.1" y1="2374.1" x2="1251.9" y2="2374.1"/>
<line class="w" x1="1245.0" y1="2374.1" x2="1245.0" y2="2422.9"/>
<line class="w" x1="1245.0" y1="2490.7" x2="1245.0" y2="2455.4"/>
<line class="s" x1="1238.1" y1="2490.7" x2="1251.9" y2="2490.7"/>
<rect class="bb" x="1231.0" y="2422.9" width="27.9" height="32.5"/>
<line class="m" x1="1231.0" y1="2443.5" x2="1259.0" y2="2443.5"/>
<line class="s" x1="1284.0" y1="2323.5" x2="1297.8" y2="2323.5"/>
<line class="w" x1="1290.9" y1="2323.5" x2="1290.9" y2="2386.6"/>
<line class="w" x1="1290.9" y1="2467.9" x2="1290.9" y2="2429.0"/>
<line class="s" x1="1284.0" y1="2467.9" x2="1297.8" y2="2467.9"/>
<rect class="br" x="1277.0" y="2386.6" width="27.9" height="42.4"/>
<line class="m" x1="1277.0" y1="2415.2" x2="1304.9" y2="2415.2"/>
<line class="s" x1="1330.0" y1="2381.8" x2="1343.8" y2="2381.8"/>
<line class="w" x1="1336.9" y1="2381.8" x2="1336.9" y2="2427.6"/>
<line class="w" x1="1336.9" y1="2485.1" x2="1336.9" y2="2458.7"/>
<line class="s" x1="1330.0" y1="2485.1" x2="1343.8" y2="2485.1"/>
<rect class="bb" x="1323.0" y="2427.6" width="27.9" height="31.1"/>
<line class="m" x1="1323.0" y1="2447.1" x2="1350.9" y2="2447.1"/>
<line class="s" x1="1375.9" y1="2338.8" x2="1389.7" y2="2338.8"/>
<line class="w" x1="1382.8" y1="2338.8" x2="1382.8" y2="2394.3"/>
<line class="w" x1="1382.8" y1="2466.5" x2="1382.8" y2="2431.8"/>
<line class="s" x1="1375.9" y1="2466.5" x2="1389.7" y2="2466.5"/>
<rect class="br" x="1368.9" y="2394.3" width="27.9" height="37.5"/>
<line class="m" x1="1368.9" y1="2420.7" x2="1396.8" y2="2420.7"/>
<line class="s" x1="1421.9" y1="2379.1" x2="1435.7" y2="2379.1"/>
<line class="w" x1="1428.8" y1="2379.1" x2="1428.8" y2="2426.3"/>
<line class="w" x1="1428.8" y1="2490.9" x2="1428.8" y2="2459.0"/>
<line class="s" x1="1421.9" y1="2490.9" x2="1435.7" y2="2490.9"/>
<rect class="bb" x="1414.9" y="2426.3" width="27.9" height="32.7"/>
<line class="m" x1="1414.9" y1="2446.5" x2="1442.8" y2="2446.5"/>
<line class="s" x1="1467.8" y1="2330.5" x2="1481.6" y2="2330.5"/>
<line class="w" x1="1474.7" y1="2330.5" x2="1474.7" y2="2390.7"/>
<line class="w" x1="1474.7" y1="2468.5" x2="1474.7" y2="2429.6"/>
<line class="s" x1="1467.8" y1="2468.5" x2="1481.6" y2="2468.5"/>
<rect class="br" x="1460.8" y="2390.7" width="27.9" height="38.9"/>
<line class="m" x1="1460.8" y1="2417.4" x2="1488.7" y2="2417.4"/>
<line class="s" x1="1513.8" y1="2376.3" x2="1527.6" y2="2376.3"/>
<line class="w" x1="1520.7" y1="2376.3" x2="1520.7" y2="2424.3"/>
<line class="w" x1="1520.7" y1="2486.5" x2="1520.7" y2="2456.8"/>
<line class="s" x1="1513.8" y1="2486.5" x2="1527.6" y2="2486.5"/>
<rect class="bb" x="1506.8" y="2424.3" width="27.9" height="32.5"/>
<line class="m" x1="1506.8" y1="2444.9" x2="1534.7" y2="2444.9"/>
<line class="s" x1="1559.7" y1="2319.4" x2="1573.5" y2="2319.4"/>
<line class="w" x1="1566.6" y1="2319.4" x2="1566.6" y2="2383.8"/>
<line class="w" x1="1566.6" y1="2467.9" x2="1566.6" y2="2427.6"/>
<line class="s" x1="1559.7" y1="2467.9" x2="1573.5" y2="2467.9"/>
<rect class="br" x="1552.7" y="2383.8" width="27.9" height="43.8"/>
<line class="m" x1="1552.7" y1="2414.3" x2="1580.6" y2="2414.3"/>
<line class="s" x1="1605.7" y1="2377.7" x2="1619.5" y2="2377.7"/>
<line class="w" x1="1612.6" y1="2377.7" x2="1612.6" y2="2424.9"/>
<line class="w" x1="1612.6" y1="2487.9" x2="1612.6" y2="2456.2"/>
<line class="s" x1="1605.7" y1="2487.9" x2="1619.5" y2="2487.9"/>
<rect class="bb" x="1598.6" y="2424.9" width="27.9" height="31.3"/>
<line class="m" x1="1598.6" y1="2443.7" x2="1626.5" y2="2443.7"/>
<line class="s" x1="1651.6" y1="2327.7" x2="1665.4" y2="2327.7"/>
<line class="w" x1="1658.5" y1="2327.7" x2="1658.5" y2="2386.6"/>
<line class="w" x1="1658.5" y1="2464.6" x2="1658.5" y2="2426.3"/>
<line class="s" x1="1651.6" y1="2464.6" x2="1665.4" y2="2464.6"/>
<rect class="br" x="1644.5" y="2386.6" width="27.9" height="39.7"/>
<line class="m" x1="1644.5" y1="2411.0" x2="1672.5" y2="2411.0"/>
<line class="s" x1="1697.6" y1="2381.8" x2="1711.4" y2="2381.8"/>
<line class="w" x1="1704.5" y1="2381.8" x2="1704.5" y2="2425.4"/>
<line class="w" x1="1704.5" y1="2490.7" x2="1704.5" y2="2453.5"/>
<line class="s" x1="1697.6" y1="2490.7" x2="1711.4" y2="2490.7"/>
<rect class="bb" x="1690.5" y="2425.4" width="27.9" height="28.1"/>
<line class="m" x1="1690.5" y1="2440.7" x2="1718.5" y2="2440.7"/>
<line class="s" x1="1743.5" y1="2321.6" x2="1757.3" y2="2321.6"/>
<line class="w" x1="1750.4" y1="2321.6" x2="1750.4" y2="2383.8"/>
<line class="w" x1="1750.4" y1="2476.2" x2="1750.4" y2="2425.7"/>
<line class="s" x1="1743.5" y1="2476.2" x2="1757.3" y2="2476.2"/>
<rect class="br" x="1736.5" y="2383.8" width="27.9" height="41.9"/>
<line class="m" x1="1736.5" y1="2409.9" x2="1764.4" y2="2409.9"/>
<line class="s" x1="1789.5" y1="2374.3" x2="1803.3" y2="2374.3"/>
<line class="w" x1="1796.4" y1="2374.3" x2="1796.4" y2="2422.1"/>
<line class="w" x1="1796.4" y1="2486.5" x2="1796.4" y2="2453.5"/>
<line class="s" x1="1789.5" y1="2486.5" x2="1803.3" y2="2486.5"/>
<rect class="bb" x="1782.5" y="2422.1" width="27.9" height="31.4"/>
<line class="m" x1="1782.5" y1="2438.8" x2="1810.4" y2="2438.8"/>
<line class="s" x1="1835.4" y1="2330.8" x2="1849.2" y2="2330.8"/>
<line class="w" x1="1842.3" y1="2330.8" x2="1842.3" y2="2387.4"/>
<line class="w" x1="1842.3" y1="2461.0" x2="1842.3" y2="2423.8"/>
<line class="s" x1="1835.4" y1="2461.0" x2="1849.2" y2="2461.0"/>
<rect class="br" x="1828.4" y="2387.4" width="27.9" height="36.4"/>
<line class="m" x1="1828.4" y1="2408.5" x2="1856.3" y2="2408.5"/>
<line class="s" x1="1881.4" y1="2377.7" x2="1895.2" y2="2377.7"/>
<line class="w" x1="1888.3" y1="2377.7" x2="1888.3" y2="2417.9"/>
<line class="w" x1="1888.3" y1="2483.2" x2="1888.3" y2="2453.5"/>
<line class="s" x1="1881.4" y1="2483.2" x2="1895.2" y2="2483.2"/>
<rect class="bb" x="1874.4" y="2417.9" width="27.9" height="35.6"/>
<line class="m" x1="1874.4" y1="2439.3" x2="1902.3" y2="2439.3"/>
<line class="s" x1="1927.3" y1="2328.3" x2="1941.1" y2="2328.3"/>
<line class="w" x1="1934.2" y1="2328.3" x2="1934.2" y2="2381.8"/>
<line class="w" x1="1934.2" y1="2465.1" x2="1934.2" y2="2425.7"/>
<line class="s" x1="1927.3" y1="2465.1" x2="1941.1" y2="2465.1"/>
<rect class="br" x="1920.3" y="2381.8" width="27.9" height="43.9"/>
<line class="m" x1="1920.3" y1="2406.8" x2="1948.2" y2="2406.8"/>
<line class="s" x1="1973.3" y1="2361.0" x2="1987.1" y2="2361.0"/>
<line class="w" x1="1980.2" y1="2361.0" x2="1980.2" y2="2396.6"/>
<line class="w" x1="1980.2" y1="2459.6" x2="1980.2" y2="2438.8"/>
<line class="s" x1="1973.3" y1="2459.6" x2="1987.1" y2="2459.6"/>
<rect class="bb" x="1966.3" y="2396.6" width="27.9" height="42.2"/>
<line class="m" x1="1966.3" y1="2409.6" x2="1994.2" y2="2409.6"/>
<line class="s" x1="2019.2" y1="2313.3" x2="2033.0" y2="2313.3"/>
<line class="w" x1="2026.1" y1="2313.3" x2="2026.1" y2="2357.7"/>
<line class="w" x1="2026.1" y1="2435.4" x2="2026.1" y2="2406.8"/>
<line class="s" x1="2019.2" y1="2435.4" x2="2033.0" y2="2435.4"/>
<rect class="br" x="2012.2" y="2357.7" width="27.9" height="49.1"/>
<line class="m" x1="2012.2" y1="2376.3" x2="2040.1" y2="2376.3"/>
</g>
<rect class="ln" x="160.9" y="1926.4" width="1985.4" height="631.0"/>
<line class="g" x1="303.3" y1="1926.7" x2="303.3" y2="2558.9"/>
<line class="g" x1="395.2" y1="1926.7" x2="395.2" y2="2558.9"/>
<line class="g" x1="487.1" y1="1926.7" x2="487.1" y2="2558.9"/>
<line class="g" x1="579.0" y1="1926.7" x2="579.0" y2="2558.9"/>
<line class="g" x1="670.9" y1="1926.7" x2="670.9" y2="2558.9"/>
<line class="g" x1="762.8" y1="1926.7" x2="762.8" y2="2558.9"/>
<line class="g" x1="854.7" y1="1926.7" x2="854.7" y2="2558.9"/>
<line class="g" x1="946.6" y1="1926.7" x2="946.6" y2="2558.9"/>
<line class="g" x1="1038.5" y1="1926.7" x2="1038.5" y2="2558.9"/>
<line class="g" x1="1130.4" y1="1926.7" x2="1130.4" y2="2558.9"/>
<line class="g" x1="1222.3" y1="1926.7" x2="1222.3" y2="2558.9"/>
<line class="g" x1="1314.2" y1="1926.7" x2="1314.2" y2="2558.9"/>
<line class="g" x1="1406.1" y1="1926.7" x2="1406.1" y2="2558.9"/>
<line class="g" x1="1498.0" y1="1926.7" x2="1498.0" y2="2558.9"/>
<line class="g" x1="1589.9" y1="1926.7" x2="1589.9" y2="2558.9"/>
<line class="g" x1="1681.8" y1="1926.7" x2="1681.8" y2="2558.9"/>
<line class="g" x1="1773.7" y1="1926.7" x2="1773.7" y2="2558.9"/>
<line class="g" x1="1865.6" y1="1926.7" x2="1865.6" y2="2558.9"/>
<line class="g" x1="1957.5" y1="1926.7" x2="1957.5" y2="2558.9"/>
<line class="g" x1="2049.4" y1="1926.7" x2="2049.4" y2="2558.9"/>
<line class="tk" x1="160.9" y1="2534.2" x2="145.1" y2="2534.2"/>
<text class="ax" text-anchor="middle" transform="translate(123.3 2534.9) rotate(-90)">0</text>
<line class="tk" x1="160.9" y1="2388.1" x2="145.1" y2="2388.1"/>
<text class="ax" text-anchor="middle" transform="translate(123.3 2388.8) rotate(-90)">20</text>
<line class="tk" x1="160.9" y1="2242.0" x2="145.1" y2="2242.0"/>
<text class="ax" text-anchor="middle" transform="translate(123.3 2242.7) rotate(-90)">40</text>
<line class="tk" x1="160.9" y1="2095.8" x2="145.1" y2="2095.8"/>
<text class="ax" text-anchor="middle" transform="translate(123.3 2096.5) rotate(-90)">60</text>
<line class="tk" x1="160.9" y1="1949.7" x2="145.1" y2="1949.7"/>
<text class="ax" text-anchor="middle" transform="translate(123.3 1950.4) rotate(-90)">80</text>
<line class="tk" x1="992.6" y1="2557.4" x2="992.6" y2="2573.2"/>
<text class="ax" text-anchor="middle" x="992.1" y="2615.2">8</text>
<line class="tk" x1="1084.5" y1="2557.4" x2="1084.5" y2="2573.2"/>
<text class="ax" text-anchor="middle" x="1084.0" y="2615.2">9</text>
<line class="tk" x1="1176.3" y1="2557.4" x2="1176.3" y2="2573.2"/>
<text class="ax" text-anchor="middle" x="1175.8" y="2615.2">10</text>
<line class="tk" x1="1268.2" y1="2557.4" x2="1268.2" y2="2573.2"/>
<text class="ax" text-anchor="middle" x="1267.8" y="2615.2">11</text>
<line class="tk" x1="1360.2" y1="2557.4" x2="1360.2" y2="2573.2"/>
<text class="ax" text-anchor="middle" x="1359.7" y="2615.2">12</text>
<line class="tk" x1="1452.1" y1="2557.4" x2="1452.1" y2="2573.2"/>
<text class="ax" text-anchor="middle" x="1451.6" y="2615.2">13</text>
<line class="tk" x1="1544.0" y1="2557.4" x2="1544.0" y2="2573.2"/>
<text class="ax" text-anchor="middle" x="1543.5" y="2615.2">14</text>
<line class="tk" x1="1635.8" y1="2557.4" x2="1635.8" y2="2573.2"/>
<text class="ax" text-anchor="middle" x="1635.3" y="2615.2">15</text>
<line class="tk" x1="1727.8" y1="2557.4" x2="1727.8" y2="2573.2"/>
<text class="ax" text-anchor="middle" x="1727.2" y="2615.2">16</text>
<line class="tk" x1="1819.7" y1="2557.4" x2="1819.7" y2="2573.2"/>
<text class="ax" text-anchor="middle" x="1819.2" y="2615.2">17</text>
<line class="tk" x1="1911.6" y1="2557.4" x2="1911.6" y2="2573.2"/>
<text class="ax" text-anchor="middle" x="1911.1" y="2615.2">18</text>
<line class="tk" x1="2003.5" y1="2557.4" x2="2003.5" y2="2573.2"/>
<text class="ax" text-anchor="middle" x="2003.0" y="2615.2">19</text>
<text class="lab" text-anchor="middle" x="1152.4" y="2676.4">Mean scan angle in C3 (degrees)</text>
<text class="lab" text-anchor="middle" transform="translate(61.0 2242.5) rotate(-90)">I_PE_1st_p95_C3</text>
</g>
</svg>
</body></html>
